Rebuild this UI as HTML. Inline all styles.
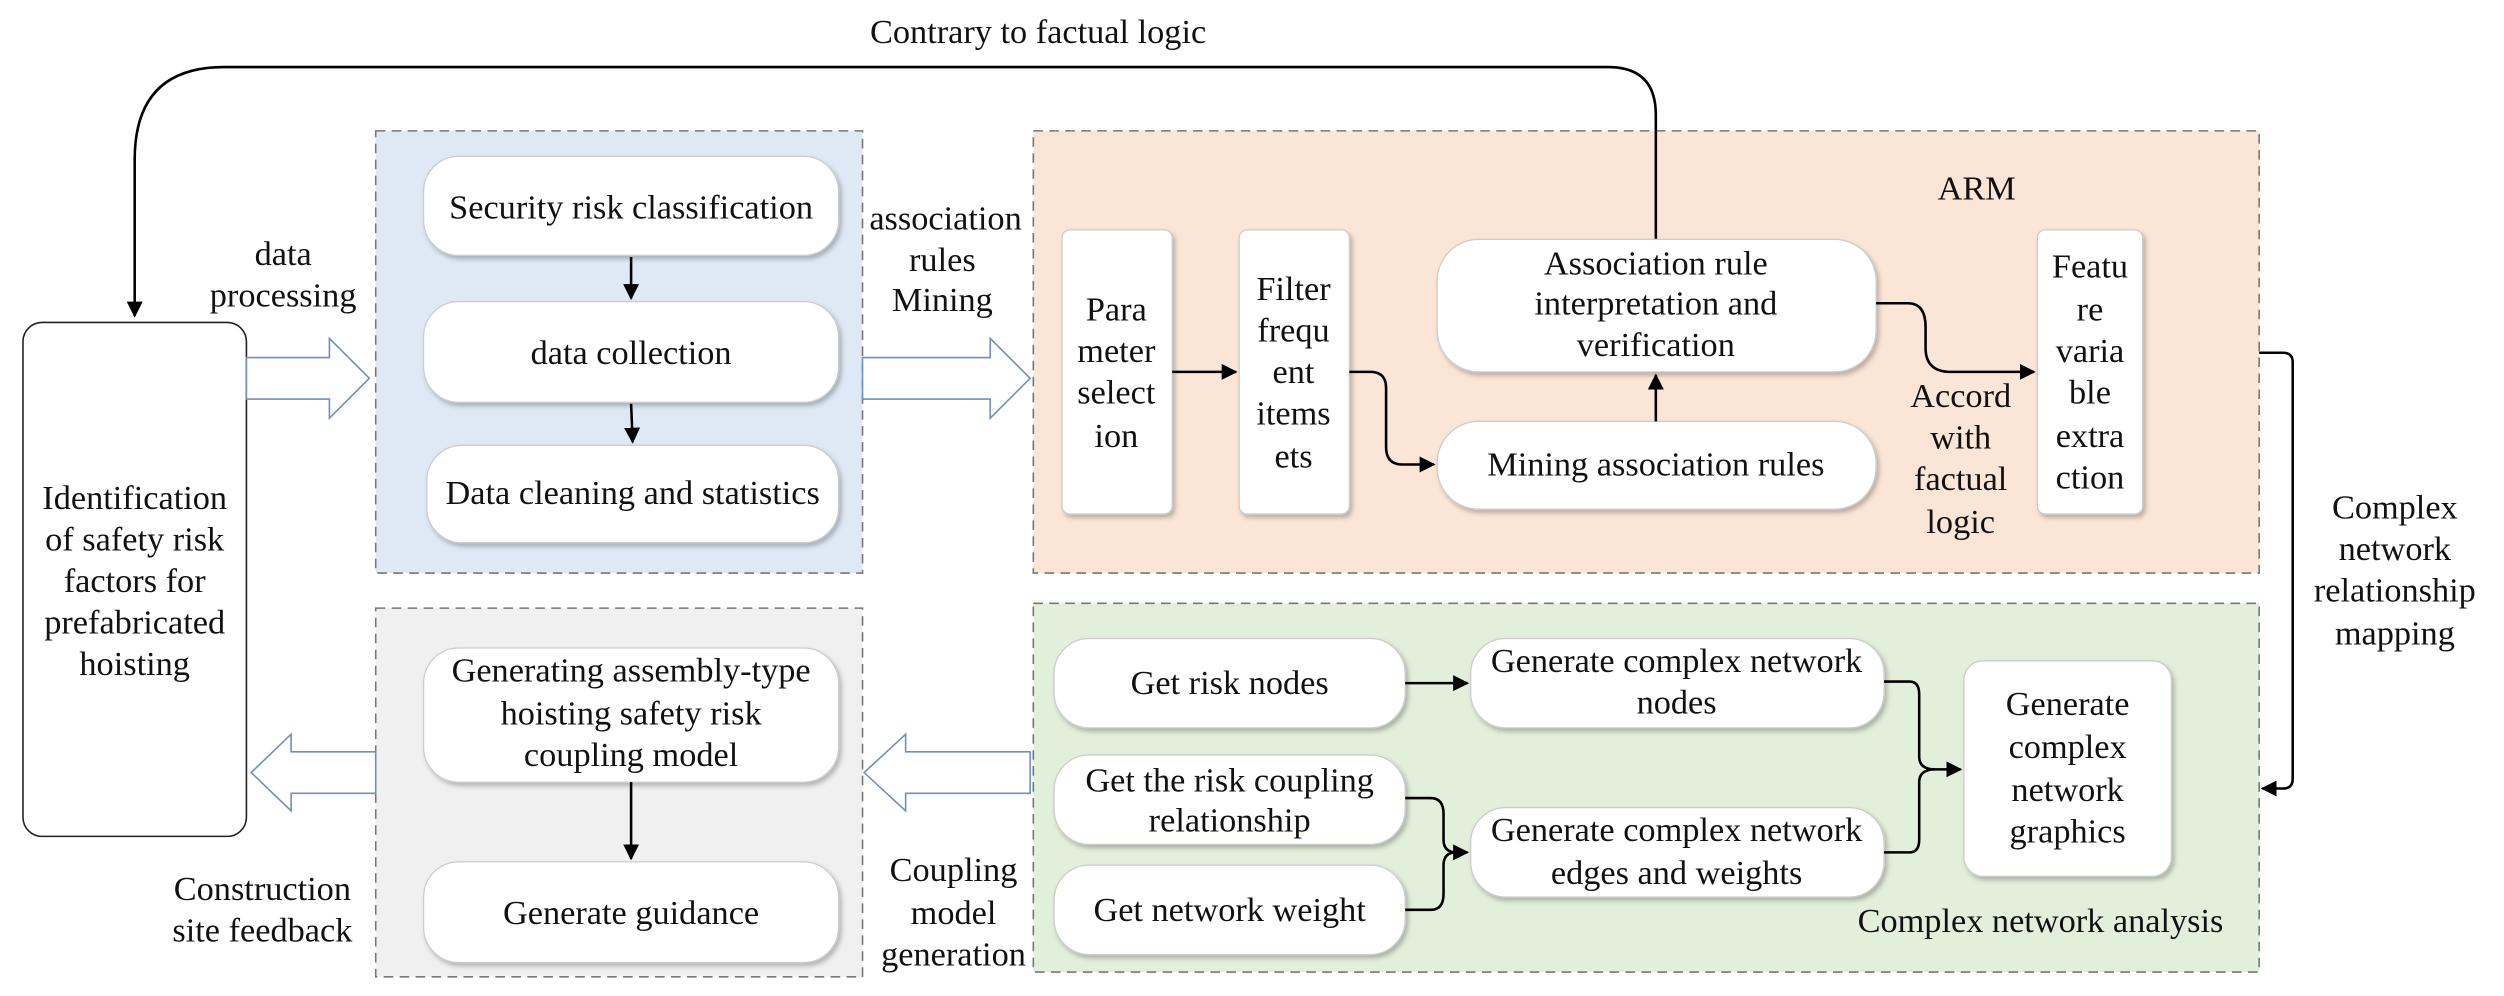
<!DOCTYPE html>
<html><head><meta charset="utf-8"><style>
html,body{margin:0;padding:0;background:#fff;}
svg{display:block;}
text{font-family:"Liberation Serif",serif;font-size:21.5px;fill:#111;text-anchor:middle;dominant-baseline:central;}
.grp{stroke:#777;stroke-width:1;stroke-dasharray:6,4;}
.node{fill:#fff;stroke:#ccc;stroke-width:0.8;filter:url(#sh);}
.ln{fill:none;stroke:#000;stroke-width:1.6;}
.hol{fill:#fff;stroke:#6e8fbf;stroke-width:1;}
</style></head><body>
<svg width="2504" height="996" viewBox="0 0 1568 624" xmlns="http://www.w3.org/2000/svg">
<defs>
<filter id="sh" x="-10%" y="-10%" width="130%" height="130%"><feDropShadow dx="1.5" dy="2" stdDeviation="1.5" flood-color="#000" flood-opacity="0.25"/></filter>
<marker id="ar" markerWidth="10" markerHeight="10" refX="9" refY="5" orient="auto" markerUnits="userSpaceOnUse"><path d="M0,0 L10,5 L0,10 z" fill="#000"/></marker>
</defs>
<rect x="235" y="82" width="305" height="277" fill="#dee9f5" class="grp"/>
<rect x="647" y="82" width="768" height="277" fill="#fbe5d6" class="grp"/>
<rect x="647" y="378" width="768" height="231" fill="#e2efda" class="grp"/>
<rect x="235" y="381" width="305" height="231" fill="#f0f0f0" class="grp"/>

<text x="650" y="20">Contrary to factual logic</text>
<path class="ln" d="M1037,150 L1037,72 Q1037,42 1007,42 L140,42 Q84,42 84,100 L84,198" marker-end="url(#ar)"/>

<rect x="14" y="202" width="140" height="322" rx="12" fill="#fff" stroke="#222" stroke-width="1"/>
<text x="84" y="312">Identification</text>
<text x="84" y="338">of safety risk</text>
<text x="84" y="364">factors for</text>
<text x="84" y="390">prefabricated</text>
<text x="84" y="416">hoisting</text>

<rect class="node" x="265" y="98" width="260" height="62" rx="22"/>
<text x="395" y="130">Security risk classification</text>
<rect class="node" x="265" y="189" width="260" height="63" rx="22"/>
<text x="395" y="221">data collection</text>
<rect class="node" x="267" y="279" width="258" height="61" rx="22"/>
<text x="396" y="309">Data cleaning and statistics</text>
<path class="ln" d="M395,161 L395,187" marker-end="url(#ar)"/>
<path class="ln" d="M395,253 L396,277" marker-end="url(#ar)"/>

<path class="hol" d="M154,224 L206,224 L206,212 L231,237 L206,262 L206,250 L154,250 z"/>
<text x="177" y="159">data</text><text x="177" y="185">processing</text>
<path class="hol" d="M540,224 L620,224 L620,212 L645,237 L620,262 L620,250 L540,250 z"/>
<text x="592" y="137">association</text><text x="590" y="163">rules</text><text x="590" y="188">Mining</text>
<path class="hol" d="M645,471 L567,471 L567,460 L541,484 L567,508 L567,497 L645,497 z"/>
<text x="597" y="545">Coupling</text><text x="597" y="572">model</text><text x="597" y="598">generation</text>
<path class="hol" d="M235,471 L182,471 L182,460 L157,484 L182,508 L182,497 L235,497 z"/>
<text x="164" y="557">Construction</text><text x="164" y="583">site feedback</text>

<text x="1238" y="118">ARM</text>
<rect class="node" x="665" y="144" width="69" height="178" rx="5"/>
<text x="699" y="194">Para</text><text x="699" y="220">meter</text><text x="699" y="246">select</text><text x="699" y="273">ion</text>
<rect class="node" x="776" y="144" width="69" height="178" rx="5"/>
<text x="810" y="181">Filter</text><text x="810" y="207">frequ</text><text x="810" y="233">ent</text><text x="810" y="259">items</text><text x="810" y="286">ets</text>
<rect class="node" x="900" y="150" width="275" height="83" rx="26"/>
<text x="1037" y="165">Association rule</text><text x="1037" y="190">interpretation and</text><text x="1037" y="216">verification</text>
<rect class="node" x="900" y="264" width="275" height="55" rx="26"/>
<text x="1037" y="291">Mining association rules</text>
<rect class="node" x="1276" y="144" width="66" height="178" rx="5"/>
<text x="1309" y="167">Featu</text><text x="1309" y="194">re</text><text x="1309" y="220">varia</text><text x="1309" y="246">ble</text><text x="1309" y="273">extra</text><text x="1309" y="299">ction</text>
<text x="1228" y="248">Accord</text><text x="1228" y="274">with</text><text x="1228" y="300">factual</text><text x="1228" y="327">logic</text>
<path class="ln" d="M734,233 L774,233" marker-end="url(#ar)"/>
<path class="ln" d="M845,233 L858,233 Q868,233 868,243 L868,280 Q868,291 878,291 L898,291" marker-end="url(#ar)"/>
<path class="ln" d="M1037,264 L1037,235" marker-end="url(#ar)"/>
<path class="ln" d="M1175,190 L1195,190 Q1206,190 1206,205 L1206,218 Q1206,233 1222,233 L1274,233" marker-end="url(#ar)"/>

<path class="ln" d="M1415,221 L1430,221 Q1436,221 1436,227 L1436,488 Q1436,494 1430,494 L1417,494" marker-end="url(#ar)"/>
<text x="1500" y="318">Complex</text><text x="1500" y="344">network</text><text x="1500" y="370">relationship</text><text x="1500" y="397">mapping</text>

<rect class="node" x="660" y="400" width="220" height="56" rx="22"/>
<text x="770" y="428">Get risk nodes</text>
<rect class="node" x="660" y="473" width="220" height="56" rx="22"/>
<text x="770" y="489">Get the risk coupling</text><text x="770" y="514">relationship</text>
<rect class="node" x="660" y="542" width="220" height="56" rx="22"/>
<text x="770" y="570">Get network weight</text>
<rect class="node" x="921" y="400" width="259" height="56" rx="22"/>
<text x="1050" y="414">Generate complex network</text><text x="1050" y="440">nodes</text>
<rect class="node" x="921" y="506" width="259" height="56" rx="22"/>
<text x="1050" y="520">Generate complex network</text><text x="1050" y="547">edges and weights</text>
<rect class="node" x="1230" y="414" width="130" height="135" rx="12"/>
<text x="1295" y="441">Generate</text><text x="1295" y="468">complex</text><text x="1295" y="495">network</text><text x="1295" y="521">graphics</text>
<text x="1278" y="577">Complex network analysis</text>
<path class="ln" d="M880,428 L919,428" marker-end="url(#ar)"/>
<path class="ln" d="M880,500 L896,500 Q904,500 904,510 L904,526 Q904,534 912,534 L919,534" marker-end="url(#ar)"/>
<path class="ln" d="M880,570 L896,570 Q904,570 904,560 L904,542 Q904,534 912,534"/>
<path class="ln" d="M1180,427 L1196,427 Q1202,427 1202,435 L1202,474 Q1202,482 1212,482 L1228,482" marker-end="url(#ar)"/>
<path class="ln" d="M1180,534 L1196,534 Q1202,534 1202,526 L1202,490 Q1202,482 1212,482"/>

<rect class="node" x="265" y="406" width="260" height="84" rx="22"/>
<text x="395" y="420">Generating assembly-type</text><text x="395" y="447">hoisting safety risk</text><text x="395" y="473">coupling model</text>
<rect class="node" x="265" y="540" width="260" height="63" rx="22"/>
<text x="395" y="572">Generate guidance</text>
<path class="ln" d="M395,490 L395,538" marker-end="url(#ar)"/>
</svg>
</body></html>
